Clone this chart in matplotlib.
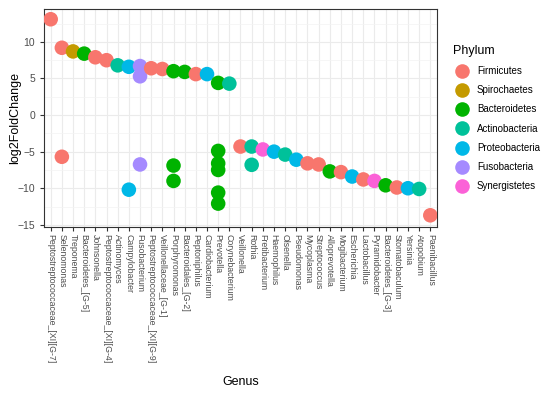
import matplotlib
matplotlib.use("Agg")
import matplotlib.pyplot as plt
from matplotlib.lines import Line2D
from matplotlib.ticker import MultipleLocator

plt.rcParams['font.family'] = ['Liberation Sans', 'DejaVu Sans']

genera = [
    "Peptostreptococcaceae_[XI][G-7]", "Selenomonas", "Treponema", "Bacteroidetes_[G-5]",
    "Johnsonella", "Peptostreptococcaceae_[XI][G-4]", "Actinomyces", "Campylobacter",
    "Fusobacterium", "Peptostreptococcaceae_[XI][G-9]", "Veillonellaceae_[G-1]", "Porphyromonas",
    "Bacteroidales_[G-2]", "Peptoniphilus", "Cardiobacterium", "Prevotella", "Corynebacterium",
    "Veillonella", "Rothia", "Fretibacterium", "Haemophilus", "Olsenella", "Pseudomonas",
    "Mycoplasma", "Streptococcus", "Alloprevotella", "Mogibacterium", "Escherichia",
    "Lactobacillus", "Pyramidobacter", "Bacteroidetes_[G-3]", "Stomatobaculum", "Yersinia",
    "Atopobium", "Paenibacillus",
]

phyla = ["Firmicutes", "Spirochaetes", "Bacteroidetes", "Actinobacteria",
         "Proteobacteria", "Fusobacteria", "Synergistetes"]
phylum_colors = ["#F8766D", "#C49A00", "#00B300", "#00C19A", "#00B8E7", "#A58AFF", "#FB61D7"]

# one entry per point: genus, log2 fold change, phylum
point_genus = [
    "Peptostreptococcaceae_[XI][G-7]", "Selenomonas", "Selenomonas", "Treponema",
    "Bacteroidetes_[G-5]", "Johnsonella", "Peptostreptococcaceae_[XI][G-4]", "Actinomyces",
    "Campylobacter", "Campylobacter", "Fusobacterium", "Fusobacterium", "Fusobacterium",
    "Peptostreptococcaceae_[XI][G-9]", "Veillonellaceae_[G-1]",
    "Porphyromonas", "Porphyromonas", "Porphyromonas", "Bacteroidales_[G-2]", "Peptoniphilus",
    "Cardiobacterium", "Prevotella", "Prevotella", "Prevotella", "Prevotella", "Prevotella",
    "Prevotella", "Corynebacterium", "Veillonella", "Rothia", "Rothia", "Fretibacterium",
    "Haemophilus", "Olsenella", "Pseudomonas", "Mycoplasma", "Streptococcus", "Alloprevotella",
    "Mogibacterium", "Escherichia", "Lactobacillus", "Pyramidobacter", "Bacteroidetes_[G-3]",
    "Stomatobaculum", "Yersinia", "Atopobium", "Paenibacillus",
]
point_lfc = [
    13.1, 9.2, -5.7, 8.7,
    8.4, 7.9, 7.5, 6.8,
    6.6, -10.2, 6.7, 5.3, -6.75,
    6.4, 6.3,
    6.0, -6.9, -9.0, 5.9, 5.6,
    5.6, 4.4, -4.9, -6.6, -7.5, -10.6,
    -12.1, 4.3, -4.3, -4.3, -6.8, -4.7,
    -5.0, -5.4, -6.1, -6.6, -6.75, -7.7,
    -7.8, -8.4, -8.8, -9.0, -9.6,
    -9.9, -10.0, -10.1, -13.7,
]
point_phylum = [
    "Firmicutes", "Firmicutes", "Firmicutes", "Spirochaetes",
    "Bacteroidetes", "Firmicutes", "Firmicutes", "Actinobacteria",
    "Proteobacteria", "Proteobacteria", "Fusobacteria", "Fusobacteria", "Fusobacteria",
    "Firmicutes", "Firmicutes",
    "Bacteroidetes", "Bacteroidetes", "Bacteroidetes", "Bacteroidetes", "Firmicutes",
    "Proteobacteria", "Bacteroidetes", "Bacteroidetes", "Bacteroidetes", "Bacteroidetes", "Bacteroidetes",
    "Bacteroidetes", "Actinobacteria", "Firmicutes", "Actinobacteria", "Actinobacteria", "Synergistetes",
    "Proteobacteria", "Actinobacteria", "Proteobacteria", "Firmicutes", "Firmicutes", "Bacteroidetes",
    "Firmicutes", "Proteobacteria", "Firmicutes", "Synergistetes", "Bacteroidetes",
    "Firmicutes", "Proteobacteria", "Actinobacteria", "Firmicutes",
]

color_of = dict(zip(phyla, phylum_colors))
xs = [genera.index(g) for g in point_genus]
cols = [color_of[p] for p in point_phylum]

fig = plt.figure(figsize=(5.5, 3.93), dpi=100)
ax = fig.add_axes([44 / 550, 1 - 227 / 393, (437 - 44) / 550, (227 - 9) / 393])

ax.scatter(xs, point_lfc, s=110, c=cols, linewidths=0, zorder=3)

ax.set_xlim(-0.6, len(genera) - 0.4)
ax.set_ylim(-15.3, 14.5)
ax.set_xticks(range(len(genera)))
ax.set_xticklabels(genera, rotation=270, color="#4d4d4d")
ax.yaxis.set_major_locator(MultipleLocator(5))
ax.yaxis.set_minor_locator(MultipleLocator(2.5))
ax.tick_params(axis="y", which="minor", length=0)
ax.tick_params(axis="both", which="major", length=3, color="#333333", labelsize=7.5, labelcolor="#4d4d4d")
ax.tick_params(axis="x", labelsize=6.3, pad=2)

ax.grid(True, which="major", color="#ebebeb", linewidth=0.8, zorder=0)
ax.grid(True, which="minor", axis="y", color="#f3f3f3", linewidth=0.5, zorder=0)
ax.set_axisbelow(True)
for sp in ax.spines.values():
    sp.set_color("#333333")
    sp.set_linewidth(0.8)

ax.set_xlabel("Genus", fontsize=9)
ax.set_ylabel("log2FoldChange", fontsize=9)
ax.xaxis.set_label_coords(0.5, -(382 - 227) / 218)
ax.yaxis.set_label_coords(-(44 - 15) / 393, 0.5)
ax.xaxis.label.set_va("center")
ax.yaxis.label.set_va("center")

handles = [Line2D([], [], marker="o", linestyle="", markersize=10.5,
                  markerfacecolor=c, markeredgewidth=0) for c in phylum_colors]
leg = fig.legend(handles, phyla, title="Phylum", loc="upper left",
                 bbox_to_anchor=(444 / 550, 1 - 36 / 393), frameon=False,
                 fontsize=7, title_fontsize=9, handletextpad=0.5,
                 labelspacing=0.95, alignment="left")

fig.savefig("out.png", dpi=100)
